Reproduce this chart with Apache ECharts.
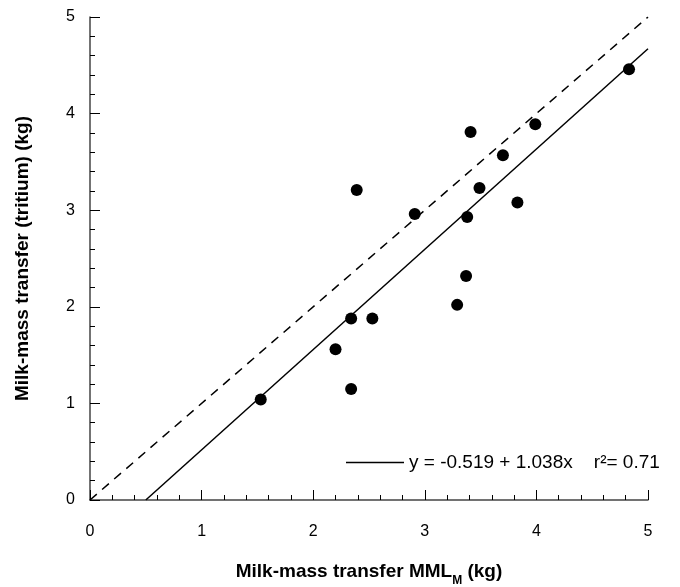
<!DOCTYPE html>
<html>
<head>
<meta charset="utf-8">
<script src="https://cdn.jsdelivr.net/npm/echarts@6/dist/echarts.min.js"></script>
<style>
  html, body { margin: 0; padding: 0; background: #fff; }
  #chart { width: 680px; height: 587px; }
</style>
</head>
<body>
<div id="chart"></div>
<script>
// measured points: MML_M (x) vs tritium milk-mass transfer (y), kg
const mmlM = [1.53, 2.20, 2.34, 2.34, 2.53, 2.39, 2.91, 3.29, 3.37, 3.38, 3.41, 3.49, 3.70, 3.83, 3.99, 4.83];
const tritium = [1.04, 1.56, 1.15, 1.88, 1.88, 3.21, 2.96, 2.02, 2.32, 2.93, 3.81, 3.23, 3.57, 3.08, 3.89, 4.46];

// regression y = a + b x
const intercept = -0.519;
const slope = 1.038;
const fitRange = [0.5, 5];

// 1:1 reference line
const oneToOne = [[0, 0], [5, 5]];

const axisTicks = [0, 1, 2, 3, 4, 5];

const fitName = 'y = -0.519 + 1.038x    r²= 0.71';
const font = '"Liberation Sans", Arial, sans-serif';

const points = mmlM.map((x, i) => [x, tritium[i]]);
const fitLine = fitRange.map(x => [x, intercept + slope * x]);

const chart = echarts.init(document.getElementById('chart'));

function axis(name, extra) {
    return Object.assign({
        type: 'value',
        min: axisTicks[0],
        max: axisTicks[axisTicks.length - 1],
        interval: 1,
        name: name,
        nameLocation: 'middle',
        nameTextStyle: { fontFamily: font, fontWeight: 'bold', fontSize: 19, color: '#000' },
        axisLine: { show: true, lineStyle: { color: '#444', width: 1.5 } },
        axisTick: { show: true, inside: true, length: 10, lineStyle: { color: '#000', width: 1 } },
        minorTick: { show: true, splitNumber: 5, length: 5, lineStyle: { color: '#000', width: 1 } },
        axisLabel: { fontFamily: font, fontSize: 16, color: '#000' },
        splitLine: { show: false }
    }, extra);
}

chart.setOption({
    backgroundColor: '#fff',
    animation: false,
    grid: { left: 90, right: 32, top: 17, bottom: 87, outerBoundsMode: 'none' },
    legend: {
        data: [{ name: fitName, icon: 'rect', itemStyle: { color: '#000' } }],
        left: 341,
        top: 448,
        itemWidth: 58,
        itemHeight: 1.5,
        itemGap: 4,
        textStyle: { fontFamily: font, fontSize: 19, color: '#000', padding: [12, 0, 0, 0] }
    },
    xAxis: axis('Milk-mass transfer MML{sub|M} (kg)', {
        nameGap: 57,
        nameTextStyle: {
            fontFamily: font, fontWeight: 'bold', fontSize: 19, color: '#000',
            rich: {
                sub: { fontFamily: font, fontWeight: 'bold', fontSize: 12, color: '#000', padding: [18, 0, 0, 0] }
            }
        },
        axisLabel: { fontFamily: font, fontSize: 16, color: '#000', margin: 24 }
    }),
    yAxis: axis('Milk-mass transfer (tritium) (kg)', {
        nameGap: 58,
        axisLabel: { fontFamily: font, fontSize: 16, color: '#000', margin: 15, padding: [16, 0, 0, 0] }
    }),
    series: [
        {
            name: 'one-to-one',
            type: 'line',
            data: oneToOne,
            symbol: 'none',
            lineStyle: { color: '#000', width: 1.5, type: [9, 7] },
            z: 2
        },
        {
            name: fitName,
            type: 'line',
            data: fitLine,
            symbol: 'none',
            itemStyle: { color: '#000' },
            lineStyle: { color: '#000', width: 1.5 },
            z: 2
        },
        {
            name: 'data',
            type: 'scatter',
            data: points,
            symbol: 'circle',
            symbolSize: 12,
            itemStyle: { color: '#000', opacity: 1 },
            z: 3
        }
    ]
});
</script>
</body>
</html>
